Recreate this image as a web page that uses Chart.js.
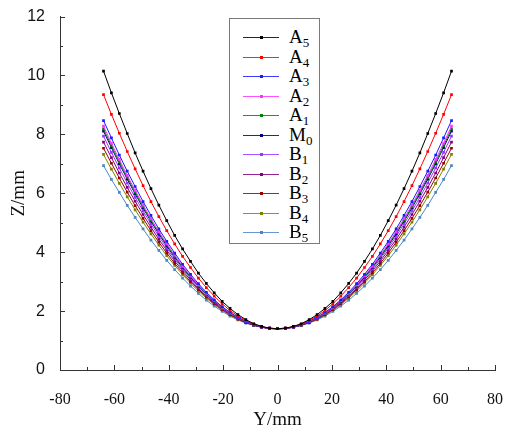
<!DOCTYPE html>
<html>
<head>
<meta charset="utf-8">
<script src="https://cdn.jsdelivr.net/npm/chart.js@4"></script>
<style>
html,body{margin:0;padding:0;background:#fff;}
#wrap{position:relative;width:517px;height:429px;overflow:hidden;}
#c{position:absolute;left:0;top:0;}
#legend{position:absolute;left:229px;top:18px;width:91px;height:226px;border:1px solid #7a7a7a;box-sizing:border-box;background:#fff;}
.ln{position:absolute;height:1px;}
.dot{position:absolute;width:3px;height:3px;}
.lab{position:absolute;font-family:"Liberation Serif","Times New Roman",serif;font-size:19px;line-height:22px;height:22px;color:#000;white-space:nowrap;}
.lab sub{font-size:13px;vertical-align:-4px;line-height:0;}
</style>
</head>
<body>
<div id="wrap">
<canvas id="c" width="517" height="429"></canvas>
<div id="legend"></div>
</div>
<script>
// ---- data ----
const Ypos = [-64,-61.09,-58.18,-55.27,-52.36,-49.45,-46.55,-43.64,-40.73,-37.82,-34.91,-32,-29.09,-26.18,-23.27,-20.36,-17.45,-14.55,-11.64,-8.73,-5.82,-2.91,0,2.91,5.82,8.73,11.64,14.55,17.45,20.36,23.27,26.18,29.09,32,34.91,37.82,40.73,43.64,46.55,49.45,52.36,55.27,58.18,61.09,64];

const A5 = [10.15,9.41,8.71,8.03,7.37,6.75,6.16,5.60,5.07,4.57,4.11,3.69,3.29,2.94,2.62,2.33,2.09,1.88,1.71,1.57,1.48,1.42,1.40,1.42,1.48,1.57,1.71,1.88,2.09,2.33,2.62,2.94,3.29,3.69,4.11,4.57,5.07,5.60,6.16,6.75,7.37,8.03,8.71,9.41,10.15];
const A4 = [9.35,8.68,8.04,7.42,6.83,6.26,5.72,5.21,4.73,4.28,3.86,3.48,3.12,2.80,2.51,2.25,2.02,1.83,1.68,1.56,1.47,1.42,1.40,1.42,1.47,1.56,1.68,1.83,2.02,2.25,2.51,2.80,3.12,3.48,3.86,4.28,4.73,5.21,5.72,6.26,6.83,7.42,8.04,8.68,9.35];
const A3 = [8.47,7.88,7.30,6.75,6.23,5.72,5.25,4.79,4.37,3.97,3.59,3.25,2.93,2.64,2.38,2.15,1.96,1.79,1.65,1.54,1.46,1.42,1.40,1.42,1.46,1.54,1.65,1.79,1.96,2.15,2.38,2.64,2.93,3.25,3.59,3.97,4.37,4.79,5.25,5.72,6.23,6.75,7.30,7.88,8.47];
const A2 = [8.28,7.70,7.15,6.61,6.10,5.61,5.14,4.70,4.29,3.90,3.53,3.20,2.89,2.61,2.36,2.13,1.94,1.78,1.64,1.54,1.46,1.42,1.40,1.42,1.46,1.54,1.64,1.78,1.94,2.13,2.36,2.61,2.89,3.20,3.53,3.90,4.29,4.70,5.14,5.61,6.10,6.61,7.15,7.70,8.28];
const A1 = [8.19,7.62,7.07,6.54,6.04,5.55,5.09,4.66,4.25,3.86,3.51,3.17,2.87,2.59,2.34,2.12,1.93,1.77,1.64,1.53,1.46,1.41,1.40,1.41,1.46,1.53,1.64,1.77,1.93,2.12,2.34,2.59,2.87,3.17,3.51,3.86,4.25,4.66,5.09,5.55,6.04,6.54,7.07,7.62,8.19];
const M0 = [8.11,7.55,7.00,6.48,5.98,5.50,5.05,4.62,4.21,3.83,3.48,3.15,2.85,2.58,2.33,2.12,1.93,1.77,1.63,1.53,1.46,1.41,1.40,1.41,1.46,1.53,1.63,1.77,1.93,2.12,2.33,2.58,2.85,3.15,3.48,3.83,4.21,4.62,5.05,5.50,5.98,6.48,7.00,7.55,8.11];
const B1 = [7.94,7.39,6.86,6.35,5.86,5.40,4.96,4.54,4.14,3.77,3.43,3.11,2.82,2.55,2.31,2.10,1.91,1.76,1.63,1.53,1.46,1.41,1.40,1.41,1.46,1.53,1.63,1.76,1.91,2.10,2.31,2.55,2.82,3.11,3.43,3.77,4.14,4.54,4.96,5.40,5.86,6.35,6.86,7.39,7.94];
const B2 = [7.74,7.21,6.69,6.20,5.73,5.28,4.85,4.44,4.06,3.70,3.37,3.06,2.77,2.51,2.28,2.08,1.90,1.75,1.62,1.52,1.46,1.41,1.40,1.41,1.46,1.52,1.62,1.75,1.90,2.08,2.28,2.51,2.77,3.06,3.37,3.70,4.06,4.44,4.85,5.28,5.73,6.20,6.69,7.21,7.74];
const B3 = [7.53,7.02,6.52,6.04,5.58,5.15,4.73,4.34,3.97,3.62,3.30,3.00,2.73,2.48,2.25,2.05,1.88,1.73,1.61,1.52,1.45,1.41,1.40,1.41,1.45,1.52,1.61,1.73,1.88,2.05,2.25,2.48,2.73,3.00,3.30,3.62,3.97,4.34,4.73,5.15,5.58,6.04,6.52,7.02,7.53];
const B4 = [7.32,6.82,6.34,5.88,5.44,5.02,4.62,4.24,3.88,3.55,3.24,2.95,2.68,2.44,2.22,2.03,1.86,1.72,1.61,1.52,1.45,1.41,1.40,1.41,1.45,1.52,1.61,1.72,1.86,2.03,2.22,2.44,2.68,2.95,3.24,3.55,3.88,4.24,4.62,5.02,5.44,5.88,6.34,6.82,7.32];
const B5 = [6.94,6.47,6.03,5.59,5.18,4.79,4.41,4.06,3.72,3.41,3.12,2.85,2.60,2.37,2.17,1.99,1.83,1.70,1.59,1.51,1.45,1.41,1.40,1.41,1.45,1.51,1.59,1.70,1.83,1.99,2.17,2.37,2.60,2.85,3.12,3.41,3.72,4.06,4.41,4.79,5.18,5.59,6.03,6.47,6.94];

const seriesNames = [["A","5"],["A","4"],["A","3"],["A","2"],["A","1"],["M","0"],["B","1"],["B","2"],["B","3"],["B","4"],["B","5"]];
const seriesValues = [A5,A4,A3,A2,A1,M0,B1,B2,B3,B4,B5];
const seriesColors = ["#000000","#ff0000","#1a1aff","#ff33ff","#008000","#000080","#9933ff","#800080","#990000","#808000","#4a86c8"];

const xTicks = [-80,-60,-40,-20,0,20,40,60,80];
const yTicks = [0,2,4,6,8,10,12];

// ---- chart ----
const datasets = seriesValues.map((vals,k)=>({
  label: seriesNames[k].join(''),
  data: vals.map((v,i)=>({x:Ypos[i], y:v})),
  borderColor: seriesColors[k],
  backgroundColor: seriesColors[k],
  borderWidth: 1,
  pointStyle: 'rect',
  pointRadius: 1.9,
  pointBorderWidth: 0,
  pointHoverRadius: 1.9,
  tension: 0,
  showLine: true,
  fill: false
}));

const minorTicks = {
  id: 'minorTicks',
  afterDraw(chart){
    const {ctx, scales:{x, y}, chartArea:a} = chart;
    ctx.save();
    ctx.strokeStyle = '#333';
    ctx.lineWidth = 1;
    ctx.beginPath();
    for (let i = 0; i < xTicks.length; i++) {
      const v = xTicks[i];
      let px = Math.round(x.getPixelForValue(v)) + 0.5;
      ctx.moveTo(px, a.bottom); ctx.lineTo(px, a.bottom - 5);
      if (i < xTicks.length - 1) {
        px = Math.round(x.getPixelForValue((v + xTicks[i+1]) / 2)) + 0.5;
        ctx.moveTo(px, a.bottom); ctx.lineTo(px, a.bottom - 3);
      }
    }
    for (let i = 0; i < yTicks.length; i++) {
      const v = yTicks[i];
      let py = Math.round(y.getPixelForValue(v)) + 0.5;
      ctx.moveTo(a.left, py); ctx.lineTo(a.left + 5, py);
      if (i < yTicks.length - 1) {
        py = Math.round(y.getPixelForValue((v + yTicks[i+1]) / 2)) + 0.5;
        ctx.moveTo(a.left, py); ctx.lineTo(a.left + 3, py);
      }
    }
    ctx.stroke();
    ctx.restore();
  }
};

new Chart(document.getElementById('c'), {
  type: 'scatter',
  data: { datasets },
  plugins: [minorTicks],
  options: {
    responsive: false,
    animation: false,
    events: [],
    layout: { padding: { top: 15, right: 22, left: 0, bottom: 0 } },
    plugins: { legend: { display: false }, tooltip: { enabled: false } },
    scales: {
      x: {
        type: 'linear', min: -80, max: 80,
        afterFit(s){ s.height = 59; },
        afterBuildTicks(s){ s.ticks = xTicks.map(v=>({value:v})); },
        grid: { display: false },
        border: { display: true, color: '#333', width: 1 },
        ticks: { color: '#111', padding: 12, maxRotation: 0, font: { family: "'Liberation Serif', serif", size: 16 } },
        title: { display: true, text: 'Y/mm', color: '#111', padding: { top: 0, bottom: -2 }, font: { family: "'Liberation Serif', serif", size: 19 } }
      },
      y: {
        type: 'linear', min: 0, max: 12,
        afterFit(s){ s.width = 60; },
        afterBuildTicks(s){ s.ticks = yTicks.map(v=>({value:v})); },
        grid: { display: false },
        border: { display: true, color: '#333', width: 1 },
        ticks: { color: '#111', padding: 7, font: { family: "'Liberation Sans', Arial, sans-serif", size: 16 } },
        title: { display: true, text: 'Z/mm', color: '#111', padding: { top: 8, bottom: 0 }, font: { family: "'Liberation Serif', serif", size: 19 } }
      }
    }
  }
});

// ---- legend (HTML, with real subscripts) ----
const wrap = document.getElementById('wrap');
seriesNames.forEach((nm, k) => {
  const cy = 37 + 19.5 * k;
  const ln = document.createElement('div');
  ln.className = 'ln';
  ln.style.cssText = `left:243px;top:${Math.round(cy)}px;width:36px;background:${seriesColors[k]};opacity:0.85;`;
  wrap.appendChild(ln);
  const dot = document.createElement('div');
  dot.className = 'dot';
  dot.style.cssText = `left:260px;top:${Math.round(cy)-1}px;background:${seriesColors[k]};`;
  wrap.appendChild(dot);
  const lab = document.createElement('div');
  lab.className = 'lab';
  lab.style.cssText = `left:289px;top:${Math.round(cy)-11}px;`;
  lab.innerHTML = `${nm[0]}<sub>${nm[1]}</sub>`;
  wrap.appendChild(lab);
});
</script>
</body>
</html>
